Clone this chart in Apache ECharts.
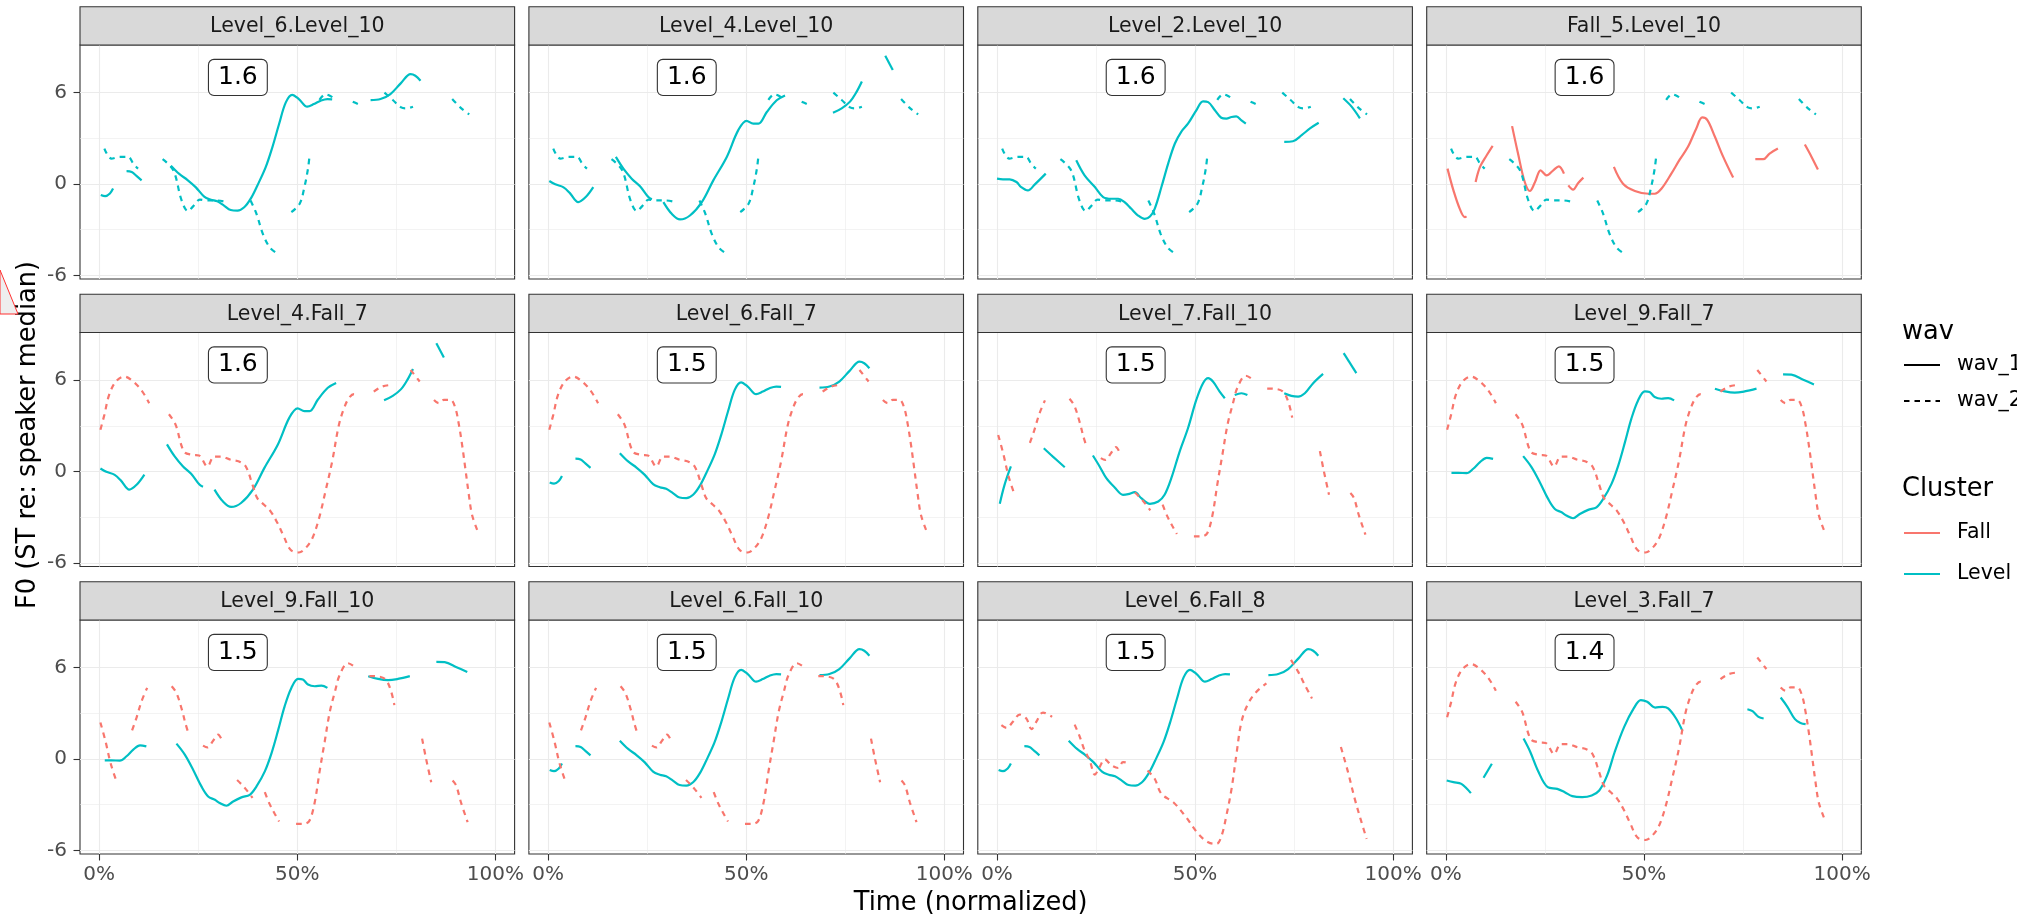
<!DOCTYPE html>
<html><head><meta charset="utf-8">
<script src="https://cdn.jsdelivr.net/npm/echarts@6/dist/echarts.min.js"></script>
<style>html,body{margin:0;padding:0;background:#fff}#c{width:2017px;height:922px}</style>
</head><body><div id="c"></div>
<script>
// ---------- data ----------
const panelNames = ['Level_6.Level_10','Level_4.Level_10','Level_2.Level_10','Fall_5.Level_10',
  'Level_4.Fall_7','Level_6.Fall_7','Level_7.Fall_10','Level_9.Fall_7',
  'Level_9.Fall_10','Level_6.Fall_10','Level_6.Fall_8','Level_3.Fall_7'];
const panelScores = [1.6,1.6,1.6,1.6,1.6,1.5,1.5,1.5,1.5,1.5,1.5,1.4];
const scoreLabelPos = [35, 7];
const xTicks = [0,50,100];
const xMinor = [25,75];
const yTicks = [-6,0,6];
const yMinor = [-3,3];
const clusterNames = ['Fall','Level'];
const wavNames = ['wav_1','wav_2'];

// F0 contours (x = % time, y = ST re: speaker median), each sub-array is one voiced stretch
const LEVEL_6 = [
 [[0.4,-0.72],[1.5,-0.8],[2.7,-0.62],[3.5,-0.3]],
 [[6.9,0.84],[8.2,0.79],[9.4,0.53],[10.7,0.24]],
 [[18.1,1.2],[20.2,0.66],[22.3,0.26],[24.4,-0.22],[26.5,-0.83],[28.2,-1.03],[29.8,-1.14],[31.5,-1.42],[33.2,-1.71],[34.9,-1.75],[36.6,-1.53],[38.2,-0.98],[39.9,-0.11],[42.0,1.09],[43.7,2.41],[45.4,3.94],[47.1,5.36],[48.7,5.86],[50.4,5.58],[52.5,5.08],[54.2,5.25],[55.9,5.47],[57.6,5.58],[58.8,5.56]],
 [[68.5,5.51],[71.0,5.58],[73.5,5.91],[76.1,6.61],[78.6,7.22],[79.8,7.11],[81.1,6.78]]
];
const LEVEL_4 = [
 [[0.3,0.2],[1.8,-0.02],[3.9,-0.22],[5.5,-0.6],[7.6,-1.19],[9.5,-0.85],[11.4,-0.2]],
 [[17.1,1.78],[19.0,1.01],[21.1,0.35],[23.2,-0.15],[25.3,-0.86],[26.2,-1.0]],
 [[29.1,-1.19],[31.2,-1.96],[33.3,-2.33],[35.8,-2.07],[38.8,-1.19],[41.7,0.24],[45.1,1.78],[48.0,3.54],[50.1,4.15],[51.8,3.96],[53.1,3.96],[55.2,4.73],[57.7,5.5],[59.8,5.82]],
 [[71.9,4.68],[74.1,4.97],[76.2,5.41],[77.9,6.07],[79.2,6.73]],
 [[85.1,8.42],[87.0,7.49]]
];
const LEVEL_2 = [
 [[0.0,0.35],[1.5,0.31],[3.2,0.31],[4.9,0.13],[6.1,-0.2],[7.8,-0.42],[9.5,-0.04],[12.3,0.68]],
 [[20.0,1.56],[22.1,0.57],[24.7,-0.2],[26.8,-0.86],[28.9,-0.97],[30.6,-0.97],[32.2,-1.19],[33.9,-1.63],[35.6,-2.07],[37.3,-2.29],[38.6,-2.13],[39.8,-1.63],[41.5,-0.2],[43.2,1.34],[44.9,2.66],[46.5,3.43],[48.2,3.96],[50.3,4.84],[52.0,5.43],[53.3,5.38],[55.0,4.84],[56.6,4.35],[57.9,4.29],[59.2,4.4],[60.4,4.44],[61.7,4.18],[62.8,3.96]],
 [[72.5,2.77],[74.7,2.81],[76.9,3.21],[79.0,3.65],[81.2,4.02]],
 [[87.4,5.63],[89.5,5.08],[91.6,4.31]]
];
const FALL_5 = [
 [[0.4,1.01],[1.9,-0.42],[3.5,-1.63],[4.8,-2.18],[5.2,-2.13]],
 [[7.5,0.13],[8.6,1.12],[10.3,1.89],[11.8,2.51]],
 [[16.7,3.8],[18.2,2.0],[19.9,0.13],[21.2,-0.46],[22.5,0.13],[23.9,0.9],[25.4,0.57],[27.1,0.9],[28.5,1.16],[29.8,0.68]],
 [[30.9,-0.09],[32.1,-0.37],[33.4,0.07],[34.7,0.42]],
 [[42.4,1.12],[44.7,0.02],[47.7,-0.46],[51.1,-0.64],[52.7,-0.64],[54.4,-0.31],[56.9,0.68],[59.0,1.6],[61.1,2.44],[63.2,3.65],[64.7,4.37],[66.0,4.2],[67.9,3.1],[70.0,1.78],[72.5,0.42]],
 [[78.1,1.63],[80.1,1.63],[81.7,2.0],[83.8,2.33]],
 [[90.6,2.59],[92.3,1.78],[93.9,0.95]]
];
const LEVEL_7 = [
 [[0.7,-2.12],[1.9,-0.88],[3.5,0.33]],
 [[11.8,1.53],[14.1,0.98],[17.1,0.28]],
 [[24.2,1.05],[25.9,0.33],[27.6,-0.44],[29.7,-1.05],[31.8,-1.53],[33.1,-1.49],[34.8,-1.36],[36.4,-1.75],[38.6,-2.12],[40.7,-1.97],[42.3,-1.53],[44.0,-0.44],[46.1,1.31],[48.2,2.84],[50.3,4.7],[52.0,5.8],[53.3,6.13],[54.5,5.91],[56.2,5.25],[57.5,4.81]],
 [[60.0,5.03],[61.7,5.14],[63.2,5.03]],
 [[72.5,5.14],[74.3,4.97],[76.0,4.92],[77.7,5.14],[79.8,5.8],[82.3,6.41]],
 [[87.5,7.77],[90.7,6.46]]
];
const LEVEL_9 = [
 [[1.4,-0.09],[3.1,-0.09],[5.2,-0.11],[6.9,0.18],[8.6,0.61],[10.3,0.9],[11.9,0.83]],
 [[19.5,1.01],[21.6,0.29],[23.7,-0.7],[25.8,-1.8],[27.5,-2.46],[29.2,-2.68],[30.4,-2.89],[32.1,-3.07],[33.8,-2.79],[35.9,-2.52],[38.0,-2.35],[39.7,-1.8],[41.8,-0.81],[43.5,0.39],[45.2,1.93],[46.8,3.46],[48.5,4.67],[50.2,5.26],[51.4,5.22],[52.7,4.89],[54.4,4.78],[56.1,4.82],[57.6,4.67]],
 [[67.9,5.44],[70.4,5.26],[72.9,5.18],[75.4,5.26],[78.4,5.44]],
 [[85.1,6.38],[87.2,6.36],[90.2,6.03],[92.9,5.72]]
];
const LEVEL_3 = [
 [[0.2,-1.41],[1.9,-1.52],[3.9,-1.63],[6.3,-2.24]],
 [[9.5,-1.23],[11.6,-0.31]],
 [[19.6,1.34],[21.3,0.46],[23.2,-0.75],[25.7,-1.85],[28.1,-1.96],[30.0,-2.18],[31.9,-2.44],[34.4,-2.51],[36.8,-2.4],[38.7,-2.07],[40.7,-1.08],[42.6,0.46],[45.0,2.11],[47.4,3.32],[49.2,3.87],[50.8,3.76],[52.8,3.38],[54.7,3.43],[56.1,3.32],[58.1,2.66],[59.7,1.85]],
 [[76.1,3.27],[77.4,3.14],[78.9,2.77],[80.2,2.66]],
 [[84.5,4.04],[86.2,3.43],[88.1,2.62],[89.5,2.37],[90.8,2.29]]
];
const LEVEL_10 = [
 [[1.3,2.33],[3.1,1.67],[5.2,1.78],[7.3,1.78],[8.6,1.34],[9.8,1.01]],
 [[16.0,1.63],[18.7,0.9],[20.8,-1.08],[22.4,-1.78],[23.7,-1.47],[25.4,-1.03],[27.1,-1.08],[29.6,-1.08],[32.1,-1.19]],
 [[38.2,-1.08],[39.7,-1.96],[41.3,-3.27],[43.0,-4.15],[44.7,-4.53]],
 [[48.5,-1.85],[50.6,-1.3],[51.8,-0.2],[52.7,1.01],[53.1,1.89]],
 [[55.6,5.52],[57.1,5.89],[58.6,5.74],[59.8,5.52]],
 [[64.0,5.41],[65.3,5.25]],
 [[72.0,6.0],[74.1,5.52],[76.2,5.03],[77.5,4.97],[79.2,5.08]],
 [[89.1,5.58],[91.4,4.97],[93.4,4.57]]
];
const FALL_7 = [
 [[0.3,2.74],[1.3,3.72],[2.5,5.03],[4.2,5.91],[6.3,6.24],[8.8,5.86],[10.9,5.25],[12.6,4.49]],
 [[17.6,3.76],[19.3,3.06],[21.4,1.31],[23.5,1.09],[25.2,1.05],[27.3,0.33],[29.0,0.98],[30.7,0.98],[33.2,0.77],[35.3,0.66],[37.0,0.33],[38.7,-0.88],[39.9,-1.75],[41.6,-2.19],[43.3,-2.63],[45.0,-3.39],[46.6,-4.27],[48.3,-5.14],[50.4,-5.32],[52.1,-5.03],[53.8,-4.38],[55.5,-3.06],[57.1,-1.31],[58.8,0.66],[60.5,3.06],[61.8,4.16],[63.0,4.81],[64.3,5.08],[65.5,5.03]],
 [[69.3,5.25],[71.4,5.58],[73.9,5.69]],
 [[78.6,6.67],[80.9,5.91]],
 [[84.5,4.7],[85.7,4.49],[87.0,4.7],[88.7,4.7],[89.9,4.16],[90.8,3.06],[91.6,1.75],[92.4,0.22],[93.3,-1.53],[94.1,-2.84],[95.4,-3.83]]
];
const FALL_10 = [
 [[0.3,2.4],[1.6,1.15],[2.9,-0.3],[4.4,-1.5]],
 [[8.3,1.88],[9.4,2.7],[10.7,3.8],[12.1,4.67]],
 [[18.3,4.78],[19.5,4.33],[20.8,3.3],[21.8,2.3],[22.7,1.55]],
 [[26.2,0.88],[27.3,0.76],[28.8,1.22],[30.0,1.6],[31.1,1.17]],
 [[34.8,-1.38],[36.6,-1.85],[38.7,-2.55]],
 [[41.8,-2.18],[43.0,-2.95],[44.3,-3.6],[45.4,-4.11]],
 [[49.7,-4.26],[51.8,-4.26],[53.1,-4.04],[54.4,-2.84],[55.6,-0.86],[56.9,1.12],[58.2,3.1],[59.5,4.42],[60.7,5.52],[62.8,6.29],[64.9,5.96]],
 [[68.2,5.45],[70.7,5.41],[72.4,5.19],[73.7,4.42],[74.5,3.54]],
 [[81.5,1.34],[82.5,0.02],[83.8,-1.52]],
 [[89.2,-1.41],[90.1,-1.74],[91.3,-2.84],[93.0,-4.15]]
];
const FALL_8 = [
 [[1.1,2.22],[2.4,2.04],[4.0,2.44],[5.7,2.92],[7.4,2.66],[8.7,1.96],[9.9,2.44],[11.6,3.05],[13.9,2.77]],
 [[19.6,2.26],[20.9,1.45],[22.1,0.57],[23.4,-0.09],[24.7,-1.03],[25.9,-0.53],[27.2,-0.02],[28.9,-0.42],[30.6,-0.59],[31.8,-0.2],[33.1,-0.26]],
 [[38.0,-0.75],[39.8,-1.3],[41.5,-2.29],[44.5,-2.84],[47.4,-3.71],[50.8,-4.92],[53.3,-5.47],[55.4,-5.58],[56.7,-5.03],[57.9,-3.71],[59.2,-1.96],[60.4,0.24],[61.7,2.44],[63.4,3.65],[65.5,4.42],[68.0,4.97]],
 [[74.2,6.51],[76.0,5.74],[77.7,4.86],[79.5,3.98]],
 [[86.8,0.79],[88.6,-0.86],[90.3,-2.62],[92.0,-4.15],[93.3,-5.25]]
];

const recordings = {Level_6:LEVEL_6, Level_4:LEVEL_4, Level_2:LEVEL_2, Fall_5:FALL_5,
  Level_7:LEVEL_7, Level_9:LEVEL_9, Level_3:LEVEL_3, Level_10:LEVEL_10,
  Fall_7:FALL_7, Fall_10:FALL_10, Fall_8:FALL_8};

// ---------- styling / layout ----------
const FONT = 'DejaVu Sans';
const COLORS = {Fall:'#F8766D', Level:'#00BFC4'};
const DASH = [5.5, 5];
const X_RANGE = [-4.85, 104.85];
const Y_RANGE = [-6.24, 9.13];
const L0 = 80, COLW = 434.6, COLSTEP = 448.9;
const T0 = 45, ROWH = 234, ROWSTEP = 287.5, STRIPH = 38.3;

const grids = [], xAxes = [], yAxes = [], series = [], graphics = [];

panelNames.forEach((name, i) => {
  const col = i % 4, row = Math.floor(i / 4);
  const left = L0 + col * COLSTEP, top = T0 + row * ROWSTEP;
  grids.push({left, top, width: COLW, height: ROWH, show: true,
    backgroundColor: '#fff', borderColor: '#333333', borderWidth: 1.1, containLabel: false});
  const xi = xAxes.length, yi = yAxes.length;
  xAxes.push({type:'value', gridIndex:i, min:X_RANGE[0], max:X_RANGE[1], position:'bottom',
    axisLine:{show:false, onZero:false},
    axisTick:{show: row === 2, customValues: xTicks, length:6.5, lineStyle:{color:'#333333', width:1.1}},
    axisLabel:{show: row === 2, customValues: xTicks, formatter:'{value}%', fontSize:20, color:'#4D4D4D', margin:11, fontFamily:FONT},
    splitLine:{show:true, lineStyle:{color:'#EBEBEB', width:1.1}}});
  xAxes.push({type:'value', gridIndex:i, min:X_RANGE[0], max:X_RANGE[1], position:'top',
    axisLine:{show:false, onZero:false}, axisTick:{show:false, customValues: xMinor},
    axisLabel:{show:false, customValues: xMinor},
    splitLine:{show:true, lineStyle:{color:'#EBEBEB', width:0.6}}});
  yAxes.push({type:'value', gridIndex:i, min:Y_RANGE[0], max:Y_RANGE[1], position:'left',
    axisLine:{show:false, onZero:false},
    axisTick:{show: col === 0, customValues: yTicks, length:6.5, lineStyle:{color:'#333333', width:1.1}},
    axisLabel:{show: col === 0, customValues: yTicks, fontSize:20, color:'#4D4D4D', margin:13, fontFamily:FONT},
    splitLine:{show:true, lineStyle:{color:'#EBEBEB', width:1.1}}});
  yAxes.push({type:'value', gridIndex:i, min:Y_RANGE[0], max:Y_RANGE[1], position:'right',
    axisLine:{show:false, onZero:false}, axisTick:{show:false, customValues: yMinor},
    axisLabel:{show:false, customValues: yMinor},
    splitLine:{show:true, lineStyle:{color:'#EBEBEB', width:0.6}}});

  const recs = name.split('.');
  recs.forEach((rec, w) => {
    const cluster = rec.split('_')[0];
    recordings[rec].forEach(seg => {
      series.push({type:'line', xAxisIndex:xi, yAxisIndex:yi, data:seg, symbol:'none',
        showSymbol:false, smooth:0.35, silent:true, z:3,
        lineStyle:{color:COLORS[cluster], width:2.2, type: w === 0 ? 'solid' : DASH, cap:'butt'}});
    });
  });
  series.push({type:'scatter', xAxisIndex:xi, yAxisIndex:yi, data:[scoreLabelPos], symbolSize:1,
    itemStyle:{color:'rgba(0,0,0,0)'}, silent:true, z:6,
    label:{show:true, position:'inside', formatter: panelScores[i].toFixed(1), fontSize:25,
      fontFamily:FONT, color:'#000', backgroundColor:'#fff', borderColor:'#333333', borderWidth:1.1,
      borderRadius:5, padding:[5,9], lineHeight:25, opacity:1}});

  // facet strip
  graphics.push({type:'rect', shape:{x:left, y:top - STRIPH, width:COLW, height:STRIPH},
    style:{fill:'#D9D9D9', stroke:'#333333', lineWidth:1.1}, silent:true, z:10});
  graphics.push({type:'text', x:left + COLW/2, y:top - STRIPH/2 + 1,
    style:{text:name, font:'20.5px "DejaVu Sans"', fill:'#1A1A1A', textAlign:'center', textVerticalAlign:'middle'}, silent:true, z:11});
});

// axis titles
graphics.push({type:'text', x:(L0 + 3*COLSTEP + COLW + L0)/2, y:903,
  style:{text:'Time (normalized)', font:'25.7px "DejaVu Sans"', fill:'#000', textAlign:'center', textVerticalAlign:'middle'}, z:11});
graphics.push({type:'text', x:28.5, y:435, rotation:Math.PI/2,
  style:{text:'F0 (ST re: speaker median)', font:'25.7px "DejaVu Sans"', fill:'#000', textAlign:'center', textVerticalAlign:'middle'}, z:11});

// legends
const LX = 1902;
graphics.push({type:'text', x:LX, y:332, style:{text:'wav', font:'25.7px "DejaVu Sans"', fill:'#000', textVerticalAlign:'middle'}, z:11});
[[wavNames[0], 365, 'solid'], [wavNames[1], 401, DASH]].forEach(([t, y, dash]) => {
  graphics.push({type:'line', shape:{x1:LX+2, y1:y, x2:LX+38, y2:y}, style:{stroke:'#000', lineWidth:2.2, lineDash: dash === 'solid' ? null : dash}, z:11});
  graphics.push({type:'text', x:LX+55, y:y, style:{text:t, font:'20.5px "DejaVu Sans"', fill:'#000', textVerticalAlign:'middle'}, z:11});
});
graphics.push({type:'text', x:LX, y:489, style:{text:'Cluster', font:'25.7px "DejaVu Sans"', fill:'#000', textVerticalAlign:'middle'}, z:11});
[[clusterNames[0], 533], [clusterNames[1], 574]].forEach(([t, y]) => {
  graphics.push({type:'line', shape:{x1:LX+2, y1:y, x2:LX+38, y2:y}, style:{stroke:COLORS[t], lineWidth:2.2}, z:11});
  graphics.push({type:'text', x:LX+55, y:y, style:{text:t, font:'20.5px "DejaVu Sans"', fill:'#000', textVerticalAlign:'middle'}, z:11});
});

// clipped marker at left edge
graphics.push({type:'polygon', shape:{points:[[0,270],[18,314],[0,314]]},
  style:{fill:'#EEEEEE', stroke:'#FF3030', lineWidth:1}, z:12});

const chart = echarts.init(document.getElementById('c'), null, {renderer:'canvas'});
chart.setOption({
  animation:false,
  backgroundColor:'#fff',
  textStyle:{fontFamily:FONT},
  grid:grids, xAxis:xAxes, yAxis:yAxes, series:series, graphic:graphics
});
</script></body></html>
